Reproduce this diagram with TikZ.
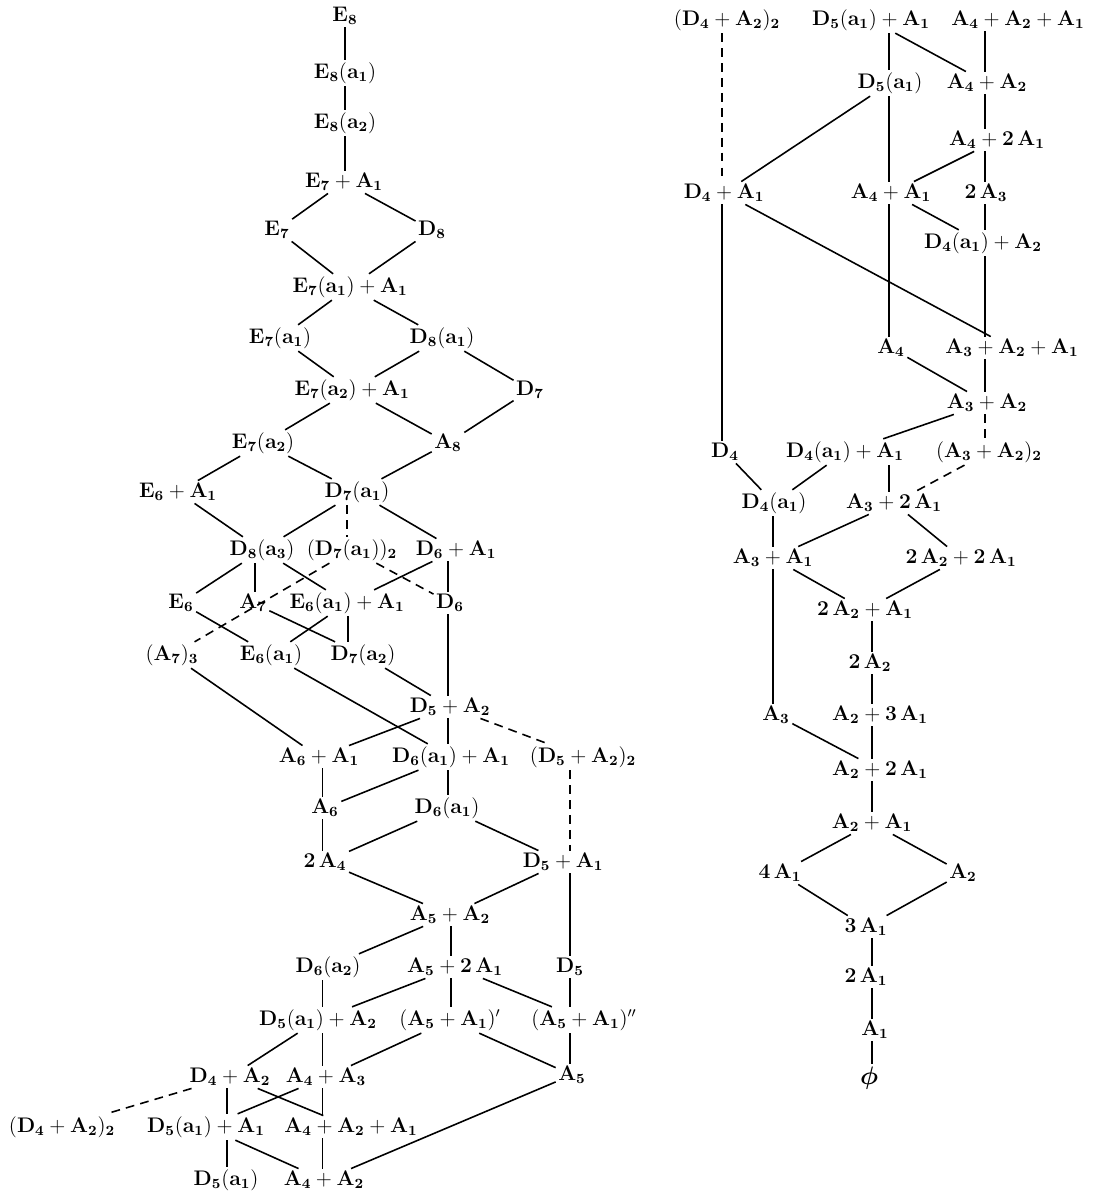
\documentclass[tikz,border=0pt]{standalone}
\usepackage{amsmath}
\usepackage{tikz}

\begin{document}
\begin{tikzpicture}[
  font=\fontsize{12}{14}\selectfont,
  orb/.style={inner sep=1.5pt,outer sep=0pt},
  ln/.style={line width=0.9pt},
  dln/.style={line width=0.9pt,dash pattern=on 5pt off 3.5pt}
]
\useasboundingbox (0,0) rectangle (21.94,-23.94);
% --- columns of the vertical links ---
\coordinate (colE8) at (6.90,0);
\coordinate (colD7) at (6.94,0);
\coordinate (colA7) at (5.10,0);
\coordinate (colD6) at (8.96,0);
\coordinate (colE6) at (6.96,0);
\coordinate (colA6) at (6.45,0);
\coordinate (colD5) at (11.40,0);
\coordinate (colA5) at (9.02,0);
\coordinate (colD4) at (4.54,0);
\coordinate (rcolD4) at (14.44,0);
\coordinate (rcolD5) at (17.78,0);
\coordinate (rcolA4) at (19.70,0);
\coordinate (rcolA3) at (15.46,0);
\coordinate (rcolA2) at (17.44,0);
% --- left part ---
\node[orb](e8)       at(6.90,-0.32){$\mathbf{E_8}$};
\node[orb](e8a1)     at(6.90,-1.46){$\mathbf{E_8(a_1)}$};
\node[orb](e8a2)     at(6.90,-2.46){$\mathbf{E_8(a_2)}$};
\node[orb](e7pa1)    at(6.88,-3.64){$\mathbf{E_7+A_1}$};
\node[orb](e7)       at(5.54,-4.60){$\mathbf{E_7}$};
\node[orb](d8)       at(8.64,-4.60){$\mathbf{D_8}$};
\node[orb](e7a1pa1)  at(7.00,-5.74){$\mathbf{E_7(a_1)+A_1}$};
\node[orb](e7a1)     at(5.60,-6.76){$\mathbf{E_7(a_1)}$};
\node[orb](d8a1)     at(8.84,-6.76){$\mathbf{D_8(a_1)}$};
\node[orb](e7a2pa1)  at(7.04,-7.80){$\mathbf{E_7(a_2)+A_1}$};
\node[orb](d7)       at(10.60,-7.80){$\mathbf{D_7}$};
\node[orb](e7a2)     at(5.26,-8.86){$\mathbf{E_7(a_2)}$};
\node[orb](a8)       at(8.96,-8.86){$\mathbf{A_8}$};
\node[orb](e6pa1)    at(3.56,-9.84){$\mathbf{E_6+A_1}$};
\node[orb](d7a1)     at(7.14,-9.84){$\mathbf{D_7(a_1)}$};
\node[orb](d8a3)     at(5.24,-11.00){$\mathbf{D_8(a_3)}$};
\node[orb](d7a1two)  at(7.04,-11.00){$\mathbf{(D_7(a_1))_2}$};
\node[orb](d6pa1)    at(9.12,-11.00){$\mathbf{D_6+A_1}$};
\node[orb](e6)       at(3.62,-12.06){$\mathbf{E_6}$};
\node[orb](a7)       at(5.06,-12.06){$\mathbf{A_7}$};
\node[orb](e6a1pa1)  at(6.94,-12.06){$\mathbf{E_6(a_1)+A_1}$};
\node[orb](d6)       at(9.00,-12.06){$\mathbf{D_6}$};
\node[orb](a7three)  at(3.44,-13.10){$\mathbf{(A_7)_3}$};
\node[orb](e6a1)     at(5.42,-13.10){$\mathbf{E_6(a_1)}$};
\node[orb](d7a2)     at(7.26,-13.10){$\mathbf{D_7(a_2)}$};
\node[orb](d5pa2)    at(9.00,-14.14){$\mathbf{D_5+A_2}$};
\node[orb](a6pa1)    at(6.38,-15.14){$\mathbf{A_6+A_1}$};
\node[orb](d6a1pa1)  at(9.02,-15.14){$\mathbf{D_6(a_1)+A_1}$};
\node[orb](d5pa2two) at(11.66,-15.14){$\mathbf{(D_5+A_2)_2}$};
\node[orb](a6)       at(6.50,-16.16){$\mathbf{A_6}$};
\node[orb](d6a1)     at(8.94,-16.16){$\mathbf{D_6(a_1)}$};
\node[orb](twoa4)    at(6.50,-17.24){$\mathbf{2\,A_4}$};
\node[orb](d5pa1)    at(11.26,-17.24){$\mathbf{D_5+A_1}$};
\node[orb](a5pa2)    at(9.00,-18.30){$\mathbf{A_5+A_2}$};
\node[orb](d6a2)     at(6.56,-19.34){$\mathbf{D_6(a_2)}$};
\node[orb](a5p2a1)   at(9.10,-19.34){$\mathbf{A_5+2\,A_1}$};
\node[orb](d5)       at(11.40,-19.34){$\mathbf{D_5}$};
\node[orb](d5a1pa2)  at(6.36,-20.40){$\mathbf{D_5(a_1)+A_2}$};
\node[orb](a5pa1p)   at(9.00,-20.40){$\mathbf{(A_5+A_1)'}$};
\node[orb](a5pa1pp)  at(11.68,-20.40){$\mathbf{(A_5+A_1)''}$};
\node[orb](d4pa2)    at(4.60,-21.54){$\mathbf{D_4+A_2}$};
\node[orb](a4pa3)    at(6.52,-21.54){$\mathbf{A_4+A_3}$};
\node[orb](a5)       at(11.44,-21.50){$\mathbf{A_5}$};
\node[orb](d4pa2two) at(1.24,-22.54){$\mathbf{(D_4+A_2)_2}$};
\node[orb](d5a1pa1)  at(4.12,-22.54){$\mathbf{D_5(a_1)+A_1}$};
\node[orb](a4pa2pa1) at(7.02,-22.54){$\mathbf{A_4+A_2+A_1}$};
\node[orb](d5a1)     at(4.52,-23.60){$\mathbf{D_5(a_1)}$};
\node[orb](a4pa2)    at(6.48,-23.60){$\mathbf{A_4+A_2}$};
% --- right part ---
\node[orb](rd4pa2two) at(14.54,-0.40){$\mathbf{(D_4+A_2)_2}$};
\node[orb](rd5a1pa1)  at(17.42,-0.40){$\mathbf{D_5(a_1)+A_1}$};
\node[orb](ra4pa2pa1) at(20.36,-0.40){$\mathbf{A_4+A_2+A_1}$};
\node[orb](rd5a1)     at(17.80,-1.66){$\mathbf{D_5(a_1)}$};
\node[orb](ra4pa2)    at(19.74,-1.66){$\mathbf{A_4+A_2}$};
\node[orb](ra4p2a1)   at(19.94,-2.80){$\mathbf{A_4+2\,A_1}$};
\node[orb](rd4pa1)    at(14.48,-3.86){$\mathbf{D_4+A_1}$};
\node[orb](ra4pa1)    at(17.82,-3.86){$\mathbf{A_4+A_1}$};
\node[orb](twoa3)     at(19.72,-3.86){$\mathbf{2\,A_3}$};
\node[orb](rd4a1pa2)  at(19.66,-4.86){$\mathbf{D_4(a_1)+A_2}$};
\node[orb](ra4)       at(17.82,-6.96){$\mathbf{A_4}$};
\node[orb](ra3pa2pa1) at(20.24,-6.96){$\mathbf{A_3+A_2+A_1}$};
\node[orb](ra3pa2)    at(19.74,-8.06){$\mathbf{A_3+A_2}$};
\node[orb](rd4)       at(14.50,-9.04){$\mathbf{D_4}$};
\node[orb](rd4a1pa1)  at(16.90,-9.04){$\mathbf{D_4(a_1)+A_1}$};
\node[orb](ra3pa2two) at(19.78,-9.04){$\mathbf{(A_3+A_2)_2}$};
\node[orb](rd4a1)     at(15.48,-10.06){$\mathbf{D_4(a_1)}$};
\node[orb](ra3p2a1)   at(17.88,-10.06){$\mathbf{A_3+2\,A_1}$};
\node[orb](ra3pa1)    at(15.46,-11.16){$\mathbf{A_3+A_1}$};
\node[orb](r2a2p2a1)  at(19.22,-11.16){$\mathbf{2\,A_2+2\,A_1}$};
\node[orb](r2a2pa1)   at(17.30,-12.20){$\mathbf{2\,A_2+A_1}$};
\node[orb](r2a2)      at(17.40,-13.26){$\mathbf{2\,A_2}$};
\node[orb](ra3)       at(15.52,-14.30){$\mathbf{A_3}$};
\node[orb](ra2p3a1)   at(17.60,-14.30){$\mathbf{A_2+3\,A_1}$};
\node[orb](ra2p2a1)   at(17.60,-15.40){$\mathbf{A_2+2\,A_1}$};
\node[orb](ra2pa1)    at(17.44,-16.46){$\mathbf{A_2+A_1}$};
\node[orb](r4a1)      at(15.60,-17.46){$\mathbf{4\,A_1}$};
\node[orb](ra2)       at(19.26,-17.46){$\mathbf{A_2}$};
\node[orb](r3a1)      at(17.32,-18.54){$\mathbf{3\,A_1}$};
\node[orb](r2a1)      at(17.32,-19.54){$\mathbf{2\,A_1}$};
\node[orb](ra1)       at(17.50,-20.60){$\mathbf{A_1}$};
\node[orb,font=\fontsize{15}{17}\selectfont](phi) at(17.38,-21.56){$\boldsymbol{\phi}$};
% vertical links
\foreach \s/\t/\c in {e8/e8a1/colE8,e8a1/e8a2/colE8,e8a2/e7pa1/colE8,
    d8a3/a7/colA7,d6pa1/d6/colD6,d6/d5pa2/colD6,d5pa2/d6a1pa1/colD6,
    d6a1pa1/d6a1/colD6,e6a1pa1/d7a2/colE6,a6pa1/a6/colA6,a6/twoa4/colA6,
    d5pa1/d5/colD5,d5/a5pa1pp/colD5,a5pa1pp/a5/colD5,
    a5pa2/a5p2a1/colA5,a5p2a1/a5pa1p/colA5,
    d6a2/d5a1pa2/colA6,d5a1pa2/a4pa3/colA6,a4pa3/a4pa2pa1/colA6,
    a4pa2pa1/a4pa2/colA6,d4pa2/d5a1pa1/colD4,d5a1pa1/d5a1/colD4,
    rd4pa1/rd4/rcolD4,rd5a1pa1/rd5a1/rcolD5,rd5a1/ra4pa1/rcolD5,
    ra4pa1/ra4/rcolD5,rd4a1pa1/ra3p2a1/rcolD5,
    ra4pa2pa1/ra4pa2/rcolA4,ra4pa2/ra4p2a1/rcolA4,ra4p2a1/twoa3/rcolA4,
    twoa3/rd4a1pa2/rcolA4,rd4a1pa2/ra3pa2pa1/rcolA4,ra3pa2pa1/ra3pa2/rcolA4,
    rd4a1/ra3pa1/rcolA3,ra3pa1/ra3/rcolA3,
    r2a2pa1/r2a2/rcolA2,r2a2/ra2p3a1/rcolA2,ra2p3a1/ra2p2a1/rcolA2,
    ra2p2a1/ra2pa1/rcolA2,r3a1/r2a1/rcolA2,r2a1/ra1/rcolA2,ra1/phi/rcolA2}
  \draw[ln](\s.south -| \c)--(\t.north -| \c);
\foreach \s/\t/\c in {d7a1/d7a1two/colD7,d5pa2two/d5pa1/colD5,
    rd4pa2two/rd4pa1/rcolD4,ra3pa2/ra3pa2two/rcolA4}
  \draw[dln](\s.south -| \c)--(\t.north -| \c);
% slanted links
\foreach \s/\t in {e7pa1/e7,e7pa1/d8,e7/e7a1pa1,d8/e7a1pa1,e7a1pa1/e7a1,
    e7a1pa1/d8a1,e7a1/e7a2pa1,d8a1/e7a2pa1,d8a1/d7,e7a2pa1/e7a2,e7a2pa1/a8,
    d7/a8,e7a2/e6pa1,e7a2/d7a1,a8/d7a1,e6pa1/d8a3,d7a1/d8a3,d7a1/d6pa1,
    d8a3/e6,d8a3/e6a1pa1,d6pa1/e6a1pa1,e6/e6a1,a7/d7a2,e6a1pa1/e6a1,
    a7three/a6pa1,e6a1/d6a1pa1,d7a2/d5pa2,d5pa2/a6pa1,d6a1pa1/a6,
    d6a1/twoa4,d6a1/d5pa1,twoa4/a5pa2,d5pa1/a5pa2,a5pa2/d6a2,
    a5p2a1/d5a1pa2,a5p2a1/a5pa1pp,d5a1pa2/d4pa2,a5pa1p/a4pa3,a5pa1p/a5,
    d4pa2/a4pa2pa1,a4pa3/d5a1pa1,d5a1pa1/a4pa2,a5/a4pa2,
    rd5a1pa1/ra4pa2,rd5a1/rd4pa1,ra4p2a1/ra4pa1,ra4pa1/rd4a1pa2,
    rd4pa1/ra3pa2pa1,ra4/ra3pa2,ra3pa2/rd4a1pa1,rd4/rd4a1,rd4a1pa1/rd4a1,
    ra3p2a1/ra3pa1,ra3p2a1/r2a2p2a1,ra3pa1/r2a2pa1,r2a2p2a1/r2a2pa1,
    ra3/ra2p2a1,ra2pa1/r4a1,ra2pa1/ra2,r4a1/r3a1,ra2/r3a1}
  \draw[ln](\s)--(\t);
\foreach \s/\t in {d7a1two/a7three,d7a1two/d6,d5pa2/d5pa2two,
    d4pa2/d4pa2two,ra3pa2two/ra3p2a1}
  \draw[dln](\s)--(\t);
\end{tikzpicture}
\end{document}
